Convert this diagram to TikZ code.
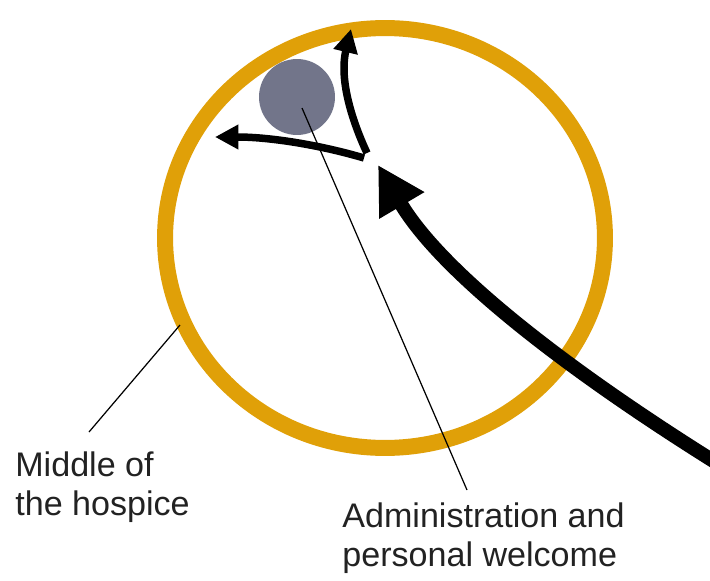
\documentclass[tikz,border=0pt]{standalone}
\usepackage{fontspec}
\setmainfont{Liberation Sans}
\usetikzlibrary{arrows.meta, positioning, shapes.geometric}
\definecolor{ringgold}{RGB}{224,160,8}
\definecolor{officegray}{RGB}{114,117,138}
\definecolor{labeltext}{RGB}{34,34,34}

\begin{document}
\begin{tikzpicture}[
    x=0.02cm, y=-0.02cm,
    label/.style={inner sep=0pt, align=left, text=labeltext,
                  font=\fontsize{19.4pt}{22.2pt}\selectfont},
    pointer/.style={line width=0.7pt},
    route/.style={line width=0.15cm, -{Triangle[length=0.47cm, width=0.47cm]}},
    mainroute/.style={line width=0.28cm, -{Triangle[length=0.94cm, width=0.98cm]}}
  ]
  \useasboundingbox (0,0) rectangle (710,581);

  \node[draw=ringgold, line width=0.32cm, ellipse, minimum width=8.8cm,
        minimum height=8.4cm] (hospice) at (385,238) {};
  \node[circle, fill=officegray, minimum size=1.52cm] (office) at (297,97) {};

  \node[label, anchor=north west] (midlabel) at (15,451) {Middle of\\the hospice};
  \node[label, anchor=north west] (adminlabel) at (342,502)
    {Administration and\\personal welcome};

  % pointer lines
  \coordinate (midring) at (180,325);
  \coordinate (midend) at (89,432);
  \coordinate (officedot) at (302,108);
  \coordinate (adminend) at (467,490);
  \draw[pointer] (midring) -- (midend);
  \draw[pointer] (officedot) -- (adminend);

  % routes into the hospice
  \coordinate (entry) at (715,462);
  \coordinate (arrive) at (378,165);
  \coordinate (forkleft) at (364,158);
  \coordinate (forkup) at (367,153);
  \coordinate (leftgo) at (215,137);
  \coordinate (upgo) at (351,29);
  \draw[mainroute] (entry) .. controls (560,365) and (440,270) .. (arrive);
  \draw[route] (forkleft) .. controls (320,145) and (270,137) .. (leftgo);
  \draw[route] (forkup) .. controls (348,112) and (340,75) .. (upgo);
\end{tikzpicture}
\end{document}
